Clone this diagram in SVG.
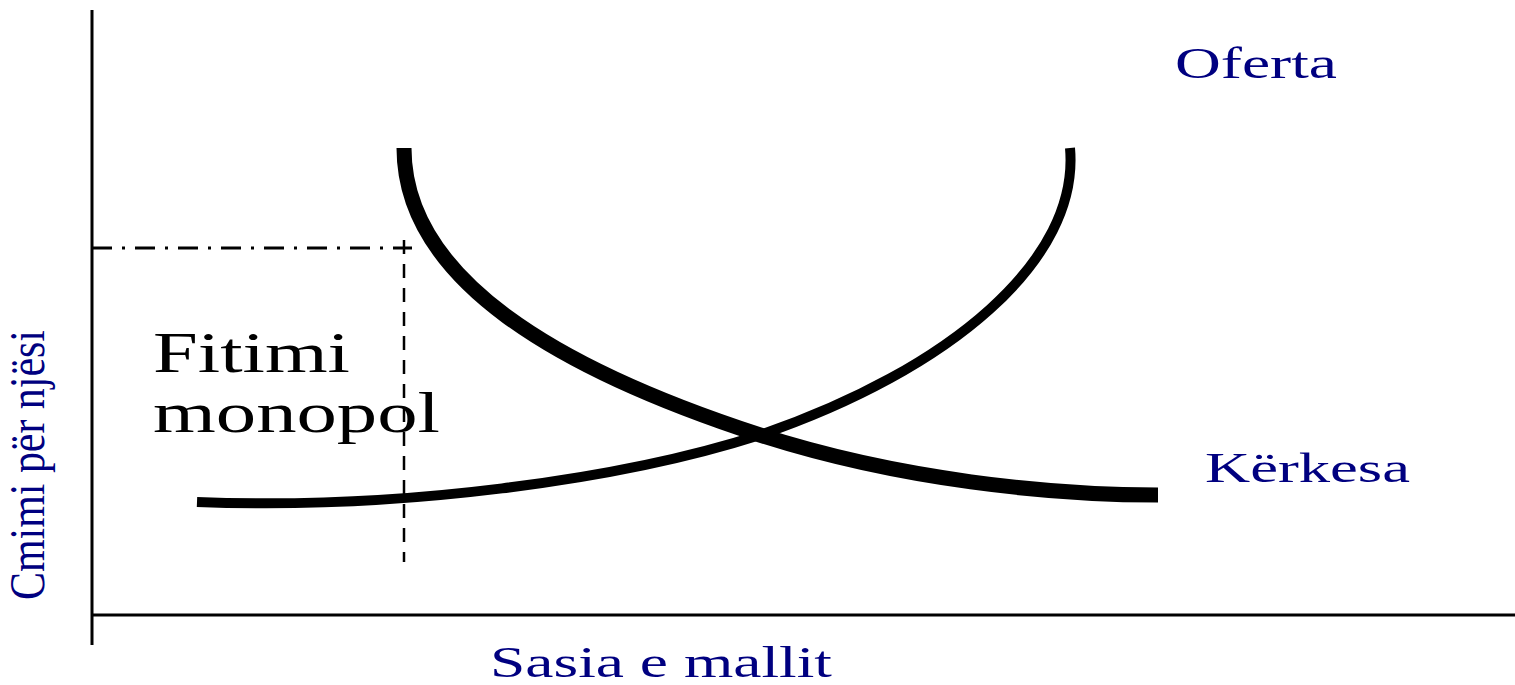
<svg xmlns="http://www.w3.org/2000/svg" width="1515" height="685" viewBox="0 0 1515 685">
<style>
.lbl{font-family:"Liberation Serif","Times New Roman",serif;fill:#000080}
.big{font-family:"Liberation Serif","Times New Roman",serif;fill:#000;font-size:56px}
.axis{stroke:#000;stroke-width:3;fill:none}
.curve{stroke:#000;fill:none;stroke-linecap:butt}
</style>
<rect width="1515" height="685" fill="#fff"/>
<g id="axes">
<line class="axis" x1="92" y1="10" x2="92" y2="645"/>
<line class="axis" x1="92" y1="615" x2="1515" y2="615"/>
</g>
<g id="connectors">
<line x1="92" y1="248" x2="412" y2="248" stroke="#000" stroke-width="3" stroke-dasharray="20,10,3,10"/>
<line x1="404" y1="240" x2="404" y2="562" stroke="#000" stroke-width="2.5" stroke-dasharray="14,10"/>
<path id="demand" class="curve" stroke-width="15" d="M404,148 C404,280 560,370 760,435 C900,480 1050,495 1158,495"/>
<path id="supply" class="curve" stroke-width="10" d="M197,502 C400,510 620,480 760,435 C950,370 1080,260 1070,148"/>
</g>
<g id="label-oferta"><text class="lbl" x="1175" y="78" font-size="44" textLength="162" lengthAdjust="spacingAndGlyphs">Oferta</text></g>
<g id="label-kerkesa"><text class="lbl" x="1205" y="482" font-size="42" textLength="205" lengthAdjust="spacingAndGlyphs">Kërkesa</text></g>
<g id="label-x"><text class="lbl" x="490" y="677" font-size="44" textLength="342" lengthAdjust="spacingAndGlyphs">Sasia e mallit</text></g>
<g id="label-y"><text class="lbl" transform="translate(44,600) rotate(-90)" font-size="50" textLength="270" lengthAdjust="spacingAndGlyphs">Cmimi për njësi</text></g>
<g id="label-fitimi">
<text class="big" x="153" y="372" textLength="197" lengthAdjust="spacingAndGlyphs">Fitimi</text>
<text class="big" x="153" y="432" textLength="287" lengthAdjust="spacingAndGlyphs">monopol</text>
</g>
</svg>
